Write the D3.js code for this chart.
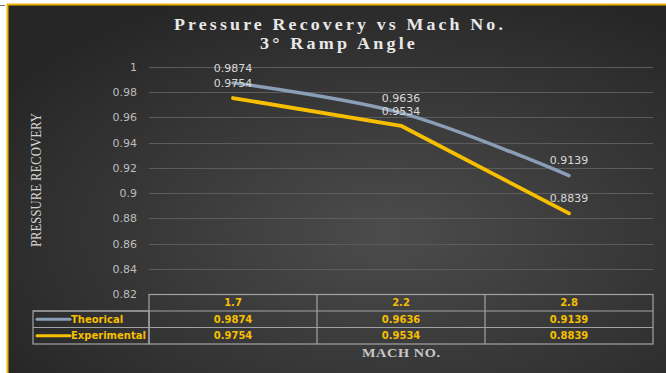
<!DOCTYPE html>
<html>
<head>
<meta charset="utf-8">
<script src="https://cdn.jsdelivr.net/npm/d3@7"></script>
<style>
  html, body { margin: 0; padding: 0; background: #ffffff; }
  svg { display: block; }
</style>
</head>
<body>
<div id="chart"></div>
<script>
// Pressure recovery against Mach number, 3° ramp angle
const machNumbers = ["1.7", "2.2", "2.8"];
const theorical = [0.9874, 0.9636, 0.9139];
const experimental = [0.9754, 0.9534, 0.8839];
const yTicks = [0.82, 0.84, 0.86, 0.88, 0.9, 0.92, 0.94, 0.96, 0.98, 1];
const seriesNames = ["Theorical", "Experimental"];
const seriesColors = ["#8b9eb8", "#f7bf00"];

const W = 666, H = 373;
const gold = "#f0b400";
const svg = d3.select("#chart").append("svg").attr("width", W).attr("height", H);

// background panel
const defs = svg.append("defs");
const grad = defs.append("radialGradient").attr("id", "bg")
  .attr("cx", "58%").attr("cy", "62%").attr("r", "70%");
grad.append("stop").attr("offset", "0%").attr("stop-color", "#4c4c4c");
grad.append("stop").attr("offset", "100%").attr("stop-color", "#262626");
svg.append("rect").attr("x", 7).attr("y", 4).attr("width", W - 7).attr("height", H - 4)
  .attr("fill", "url(#bg)");
svg.append("line").attr("x1", 7).attr("x2", W).attr("y1", 4.5).attr("y2", 4.5)
  .attr("stroke", gold).attr("stroke-width", 2);
svg.append("line").attr("x1", 7.5).attr("x2", 7.5).attr("y1", 4).attr("y2", H)
  .attr("stroke", gold).attr("stroke-width", 2);
svg.append("line").attr("x1", 0).attr("x2", 5).attr("y1", 5.5).attr("y2", 5.5)
  .attr("stroke", "#777").attr("stroke-width", 1);

// scales
const x = d3.scaleBand().domain(machNumbers).range([149, 653]);
const y = d3.scaleLinear().domain([0.82, 1]).range([294, 67]);
const cx = d => x(d) + x.bandwidth() / 2;

// gridlines
svg.append("g").selectAll("line").data(yTicks.slice(1)).join("line")
  .attr("x1", 149).attr("x2", 653)
  .attr("y1", d => Math.round(y(d)) + 0.5).attr("y2", d => Math.round(y(d)) + 0.5)
  .attr("stroke", "#5c5c5c").attr("stroke-width", 1);

// y axis labels
const yAxis = d3.axisLeft(y).tickValues(yTicks).tickFormat(d3.format("~g")).tickSize(0).tickPadding(0);
const ya = svg.append("g").attr("transform", "translate(137,0)").call(yAxis);
ya.select(".domain").remove();
ya.selectAll("text").attr("fill", "#bdbdbd").style("font-family", "DejaVu Sans").style("font-size", "11px");

// wide serif text: letter-spaced, then stretched horizontally to the given width
function wideText(parent, left, baseline, width, str, size, spacing, weight, fill) {
  const g = parent.append("g");
  const t = g.append("text").attr("x", 0).attr("y", 0)
    .attr("fill", fill).style("font-family", "Liberation Serif")
    .style("font-weight", weight).style("font-size", size + "px")
    .style("letter-spacing", spacing + "px").text(str);
  const w = t.node().getComputedTextLength() - spacing;
  const k = width / w;
  g.attr("transform", `translate(${left},${baseline}) scale(${k},1)`);
  g.property("k", k);
  return g;
}

// title
wideText(svg, 174, 29.5, 329, "Pressure Recovery vs Mach No.", 17, 3, "bold", "#e8e8e8");
wideText(svg, 260, 48.5, 155, "3° Ramp Angle", 17, 3, "bold", "#e8e8e8");

// axis titles
const yt = wideText(svg, 0, 0, 134, "PRESSURE RECOVERY", 13, 0, "normal", "#d4d4d4");
yt.attr("transform", `translate(41,247) rotate(-90) scale(${yt.property("k")},1.15)`);
wideText(svg, 362, 357, 78, "MACH NO.", 12, 0.5, "bold", "#c8c8c8");

// lines
const series = [theorical, experimental];
const curves = [d3.curveCatmullRom.alpha(0.5), d3.curveLinear];
const widths = [3.5, 3.8];
series.forEach((vals, i) => {
  const line = d3.line().x((d, j) => cx(machNumbers[j])).y(d => y(d)).curve(curves[i]);
  svg.append("path").datum(vals).attr("d", line)
    .attr("fill", "none").attr("stroke", seriesColors[i]).attr("stroke-width", widths[i])
    .attr("stroke-linecap", "round").attr("stroke-linejoin", "round");
});

// data labels
series.forEach(vals => {
  svg.append("g").selectAll("text").data(vals).join("text")
    .attr("x", (d, j) => cx(machNumbers[j]))
    .attr("y", d => y(d) - 15)
    .attr("dy", "0.35em")
    .attr("text-anchor", "middle")
    .attr("fill", "#d9d9d9").style("font-family", "DejaVu Sans").style("font-size", "11px")
    .text(d => d3.format(".4f")(d));
});

// data table
const rowY = [294.5, 311, 327.5, 344];
const tbl = svg.append("g").attr("stroke", "#a3a3a3").attr("stroke-width", 1.2).attr("fill", "none");
tbl.append("rect").attr("x", 149).attr("y", rowY[0]).attr("width", 504).attr("height", rowY[3] - rowY[0]);
tbl.append("rect").attr("x", 33).attr("y", rowY[1]).attr("width", 116).attr("height", rowY[3] - rowY[1]);
[rowY[1], rowY[2]].forEach(v => tbl.append("line").attr("x1", 33).attr("x2", 653).attr("y1", v).attr("y2", v));
machNumbers.slice(1).forEach(m => tbl.append("line").attr("x1", x(m)).attr("x2", x(m)).attr("y1", rowY[0]).attr("y2", rowY[3]));

const cellText = svg.append("g").attr("fill", "#f7bf00")
  .style("font-family", "DejaVu Sans").style("font-weight", "bold").style("font-size", "10px")
  .attr("text-anchor", "middle");
cellText.selectAll("text.h").data(machNumbers).join("text").attr("class", "h")
  .attr("x", d => cx(d)).attr("y", (rowY[0] + rowY[1]) / 2).attr("dy", "0.36em").text(d => d);
series.forEach((vals, i) => {
  const yc = (rowY[i + 1] + rowY[i + 2]) / 2;
  cellText.append("g").selectAll("text").data(vals).join("text")
    .attr("x", (d, j) => cx(machNumbers[j])).attr("y", yc).attr("dy", "0.36em")
    .text(d => d3.format(".4f")(d));
  svg.append("line").attr("x1", 37).attr("x2", 70).attr("y1", yc).attr("y2", yc)
    .attr("stroke", seriesColors[i]).attr("stroke-width", 3).attr("stroke-linecap", "round");
  svg.append("text").attr("x", 71).attr("y", yc).attr("dy", "0.36em")
    .attr("fill", "#f7bf00").style("font-family", "DejaVu Sans").style("font-weight", "bold").style("font-size", "10px")
    .text(seriesNames[i]);
});
</script>
</body>
</html>
